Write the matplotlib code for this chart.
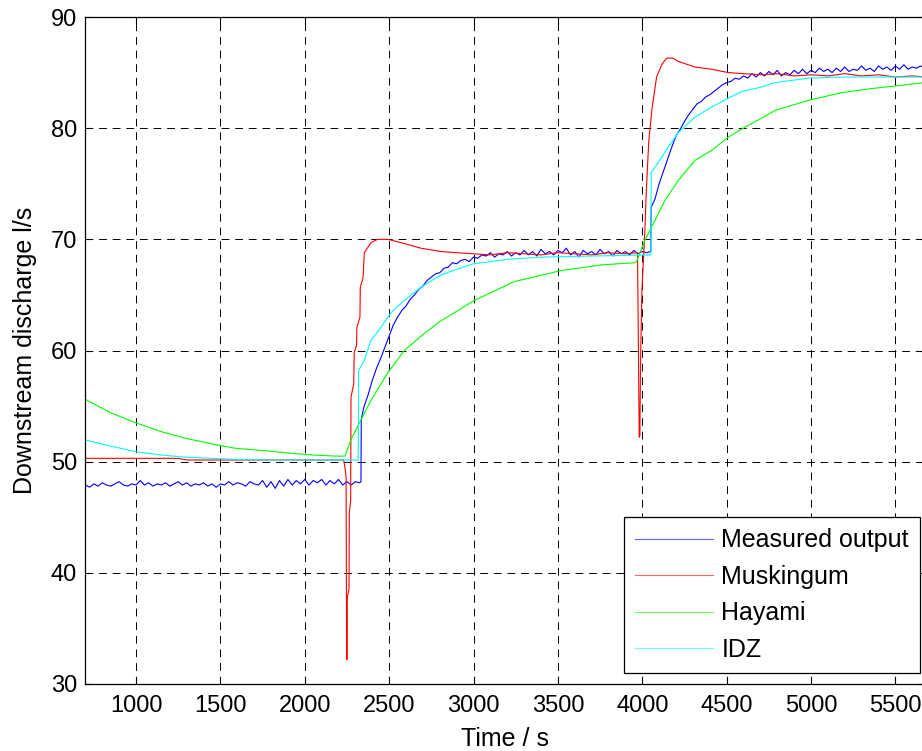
import numpy as np
import matplotlib
matplotlib.use('Agg')
import matplotlib.pyplot as plt

plt.rcParams['font.family'] = ['Liberation Sans', 'DejaVu Sans']

# Measured output (blue), every 25 s, with the jumps
meas_t = [700, 725, 750, 775, 800, 825, 850, 875, 900, 925, 950, 975, 1000, 1025, 1050, 1075,
          1100, 1125, 1150, 1175, 1200, 1225, 1250, 1275, 1300, 1325, 1350, 1375, 1400, 1425,
          1450, 1475, 1500, 1525, 1550, 1575, 1600, 1625, 1650, 1675, 1700, 1725, 1750, 1775,
          1800, 1825, 1850, 1875, 1900, 1925, 1950, 1975, 2000, 2025, 2050, 2075, 2100, 2125,
          2150, 2175, 2200, 2225, 2250, 2275, 2300, 2325, 2333,
          2335, 2350, 2375, 2400, 2425, 2450, 2475, 2500, 2525, 2550, 2575, 2600, 2625, 2650,
          2675, 2700, 2725, 2750, 2775, 2800, 2825, 2850, 2875, 2900, 2925, 2950, 2975, 3000,
          3025, 3050, 3075, 3100, 3125, 3150, 3175, 3200, 3225, 3250, 3275, 3300, 3325, 3350,
          3375, 3400, 3425, 3450, 3475, 3500, 3525, 3550, 3575, 3600, 3625, 3650, 3675, 3700,
          3725, 3750, 3775, 3800, 3825, 3850, 3875, 3900, 3925, 3950, 3975, 4000, 4025, 4050,
          4053, 4075, 4100, 4125, 4150, 4175, 4200, 4225, 4250, 4275, 4300, 4325, 4350, 4375,
          4400, 4425, 4450, 4475, 4500, 4525, 4550, 4575, 4600, 4625, 4650, 4675, 4700, 4725,
          4750, 4775, 4800, 4825, 4850, 4875, 4900, 4925, 4950, 4975, 5000, 5025, 5050, 5075,
          5100, 5125, 5150, 5175, 5200, 5225, 5250, 5275, 5300, 5325, 5350, 5375, 5400, 5425,
          5450, 5475, 5500, 5525, 5550, 5575, 5600, 5625, 5650, 5675]
meas_v = [47.9, 47.7, 48.0, 47.8, 48.1, 47.9, 47.8, 48.0, 48.2, 47.9, 47.8, 48.0, 47.9, 48.3, 47.9, 48.1,
          47.8, 48.0, 47.9, 48.1, 47.8, 48.0, 48.2, 47.9, 48.1, 47.8, 48.0, 47.9, 48.1, 47.8,
          48.0, 47.7, 48.0, 47.9, 48.2, 47.9, 48.1, 48.0, 47.8, 48.2, 48.0, 47.9, 48.3, 47.7,
          48.2, 47.6, 48.3, 47.8, 48.4, 47.9, 48.3, 48.0, 48.4, 47.9, 48.3, 48.1, 48.4, 47.9,
          48.3, 48.0, 48.4, 47.9, 48.2, 47.9, 48.2, 48.1, 48.2,
          53.8, 54.9, 56.0, 57.3, 58.4, 59.3, 60.3, 61.3, 62.3, 63.0, 63.6, 64.0, 64.6, 65.0,
          65.5, 65.8, 66.3, 66.6, 66.9, 67.0, 67.4, 67.5, 67.9, 67.8, 68.1, 68.2, 68.0, 68.4,
          68.3, 68.6, 68.5, 68.8, 68.4, 68.7, 68.6, 68.9, 68.5, 68.8, 68.6, 69.0, 68.6, 68.9,
          68.5, 69.1, 68.7, 68.9, 68.6, 69.0, 68.8, 69.2, 68.6, 68.9, 68.4, 69.0, 68.7, 68.9,
          68.6, 69.1, 68.7, 68.9, 68.5, 69.0, 68.7, 68.9, 68.6, 69.0, 68.7, 68.9, 68.8, 68.9,
          72.9, 73.6, 75.0, 76.1, 77.2, 78.3, 79.3, 79.9, 80.6, 81.2, 81.7, 82.2, 82.4, 82.8,
          83.0, 83.3, 83.6, 83.9, 84.1, 84.2, 84.5, 84.4, 84.7, 84.5, 84.9, 84.6, 85.0, 84.7,
          85.1, 84.8, 85.2, 84.7, 85.0, 84.8, 85.2, 84.9, 85.3, 84.9, 85.2, 85.0, 85.4, 85.1,
          85.3, 85.0, 85.4, 85.1, 85.5, 85.1, 85.3, 85.2, 85.6, 85.2, 85.4, 85.1, 85.6, 85.3,
          85.5, 85.2, 85.6, 85.3, 85.7, 85.3, 85.5, 85.4, 85.6, 85.4]

# Muskingum (red)
musk_t = [700, 1000, 1250, 1300, 2230, 2238, 2245, 2248, 2251, 2252, 2262, 2264, 2272, 2274,
          2290, 2293, 2307, 2309, 2327, 2329, 2345, 2353, 2392, 2432, 2492, 2571, 2689, 2808,
          2900, 3000, 3100, 3200, 3300, 3400, 3500, 3600, 3700, 3800, 3900, 3972, 3982, 3986,
          3990, 3998, 4015, 4025, 4039, 4059, 4085, 4115, 4144, 4180, 4214, 4312, 4411, 4510,
          4600, 4708, 4800, 4900, 5000, 5100, 5200, 5300, 5400, 5500, 5600, 5680]
musk_v = [50.3, 50.3, 50.3, 50.15, 50.15, 49.5, 48.6, 32.2, 32.2, 37.8, 38.5, 45.4, 46.5, 55.8,
          57.0, 59.8, 60.5, 62.1, 63.0, 65.7, 66.5, 68.8, 69.7, 70.0, 70.0, 69.7, 69.2, 68.9,
          68.8, 68.7, 68.6, 68.8, 68.7, 68.6, 68.8, 68.7, 68.6, 68.8, 68.7, 68.8, 52.2, 52.3,
          59.1, 65.4, 70.6, 74.7, 78.9, 81.9, 84.6, 85.7, 86.3, 86.3, 86.0, 85.5, 85.3, 85.0,
          84.9, 84.8, 84.9, 84.7, 84.8, 84.7, 84.9, 84.7, 84.8, 84.6, 84.7, 84.6]

# Hayami (green)
hay_t = [700, 850, 997, 1150, 1294, 1450, 1591, 1750, 1888, 2050, 2185, 2238, 2274, 2333,
         2392, 2492, 2590, 2689, 2800, 3004, 3242, 3521, 3758, 3955, 3966, 4015, 4075, 4134,
         4214, 4312, 4411, 4510, 4609, 4708, 4787, 4985, 5183, 5380, 5680]
hay_v = [55.6, 54.4, 53.5, 52.7, 52.1, 51.6, 51.2, 51.0, 50.8, 50.6, 50.5, 50.5, 52.0, 53.75,
         55.5, 58.0, 60.0, 61.3, 62.6, 64.5, 66.2, 67.2, 67.7, 67.9, 68.0, 69.9, 71.7, 73.5,
         75.3, 77.1, 78.0, 79.2, 80.1, 80.9, 81.6, 82.5, 83.2, 83.6, 84.1]

# IDZ (cyan)
idz_t = [700, 850, 997, 1150, 1294, 1450, 1591, 1800, 2317, 2319, 2353, 2392, 2452, 2511,
         2590, 2689, 2808, 2900, 3000, 3100, 3200, 3400, 3700, 4051, 4053, 4094, 4154, 4214,
         4312, 4411, 4510, 4590, 4708, 4787, 4985, 5183, 5680]
idz_v = [51.95, 51.4, 50.9, 50.6, 50.4, 50.3, 50.2, 50.15, 50.15, 58.2, 59.1, 60.9, 62.1, 63.4,
         64.5, 65.7, 66.8, 67.3, 67.8, 68.0, 68.2, 68.4, 68.5, 68.6, 76.0, 76.9, 78.3, 79.6,
         81.0, 81.9, 82.7, 83.3, 83.7, 84.1, 84.5, 84.6, 84.6]

xticks = [1000, 1500, 2000, 2500, 3000, 3500, 4000, 4500, 5000, 5500]
yticks = [30, 40, 50, 60, 70, 80, 90]

fig = plt.figure(figsize=(9.22, 7.51), dpi=100)
ax = fig.add_axes([85.4 / 922, 67 / 751, 840 / 922, 667 / 751])

lw = 0.8
ax.plot(meas_t, meas_v, color='#0000ff', lw=lw, label='Measured output')
ax.plot(musk_t, musk_v, color='#ff0000', lw=lw, label='Muskingum')
ax.plot(hay_t, hay_v, color='#00ff00', lw=lw, label='Hayami')
ax.plot(idz_t, idz_v, color='#00ffff', lw=lw, label='IDZ')

ax.set_xlim(700, 5678)
ax.set_ylim(30, 90)
ax.set_xticks(xticks)
ax.set_yticks(yticks)
ax.grid(True, color='black', linestyle=(0, (8, 6)), linewidth=0.7)
ax.tick_params(direction='in', top=True, right=True, length=5, width=0.8,
               labelsize=17, pad=8)
ax.tick_params(axis='y', pad=6)
for s in ax.spines.values():
    s.set_linewidth(0.9)

ax.set_xlabel('Time / s', fontsize=18, labelpad=7)
ax.set_ylabel('Downstream discharge l/s', fontsize=18, labelpad=10)

leg = ax.legend(loc='lower right', bbox_to_anchor=(920 / 922, 78 / 751),
                bbox_transform=fig.transFigure, fontsize=18, fancybox=False,
                framealpha=1, edgecolor='black', handlelength=3.1, handletextpad=0.35,
                labelspacing=0.5, borderpad=0.45, borderaxespad=0)
leg.get_frame().set_linewidth(0.9)
for line in leg.get_lines():
    line.set_alpha(0.6)

fig.savefig('out.png', dpi=100)
